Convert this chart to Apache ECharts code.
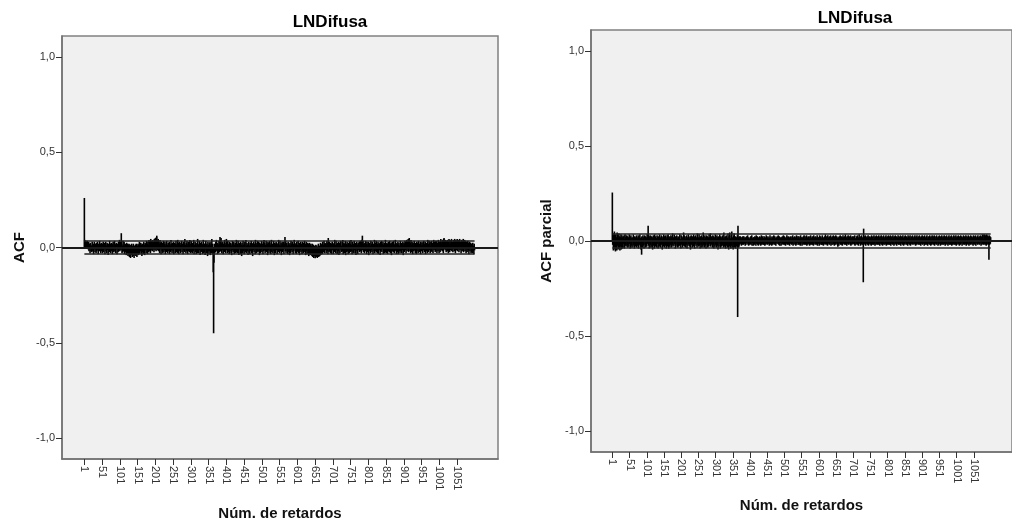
<!DOCTYPE html>
<html>
<head>
<meta charset="utf-8">
<script src="https://cdn.jsdelivr.net/npm/echarts@6/dist/echarts.min.js"></script>
<style>
html,body{margin:0;padding:0;background:#fff;}
#chart{width:1012px;height:526px;}
</style>
</head>
<body>
<div id="chart"></div>
<script>
const chartTitle = 'LNDifusa';
const xAxisName = 'Núm. de retardos';
const leftYName = 'ACF';
const rightYName = 'ACF parcial';
const lagTicks = [1,51,101,151,201,251,301,351,401,451,501,551,601,651,701,751,801,851,901,951,1001,1051];
const yTicks = [-1,-0.5,0,0.5,1];
const acfLimit = 0.034;
const pacfLimit = 0.037;

// ACF values, lags 1..1100 (10 per row)
const acfValues = [
.26,.04,.035,.03,.035,.025,.03,.02,.035,.01,
.025,-.01,.03,-.02,.02,.01,-.03,.025,.015,-.02,
.01,-.025,.03,.005,-.02,.02,-.035,.015,.03,-.01,
-.025,.02,.01,-.03,.025,-.02,.015,.03,-.015,-.035,
.02,.01,-.02,.035,-.01,.02,-.03,.015,.025,-.02,
.01,-.03,.02,.03,-.025,.015,-.01,.025,-.035,.02,
.03,-.02,.01,-.03,.025,.02,-.015,-.04,.02,.01,
-.025,.035,-.01,.02,-.03,.015,.025,-.02,.01,-.035,
.02,.03,-.015,-.025,.01,.035,-.02,.015,-.03,.02,
.025,-.01,-.035,.02,.01,-.025,.03,-.02,.015,.04,
-.02,.025,.03,-.015,.075,.02,-.03,.01,-.025,.035,
.015,-.02,.03,-.035,.01,.02,-.025,.015,-.04,.025,
.01,-.03,.02,-.045,.015,-.035,.02,-.05,.01,-.03,
-.055,.015,-.04,.02,-.035,-.05,.01,-.045,.02,-.03,
-.055,.01,-.04,-.025,.015,-.045,.02,-.035,-.05,.01,
-.03,.02,-.04,.015,-.025,.03,-.035,.01,-.02,.025,
-.03,.015,-.045,.02,-.025,.01,-.035,.03,-.02,.015,
-.04,.025,-.015,.02,-.03,.035,-.01,.02,-.035,.03,
.015,-.025,.04,-.02,.03,.01,-.03,.045,-.015,.02,
.035,-.02,.025,.04,-.01,.03,-.025,.045,.02,-.015,
.05,.03,-.02,.055,.062,.04,-.015,.035,.045,-.02,
.03,.02,-.03,.04,-.01,.025,-.035,.03,.015,-.02,
.025,-.03,.01,.035,-.025,.02,-.015,.03,-.035,.01,
.02,-.025,.035,-.01,.015,-.03,.025,.01,-.02,.03,
-.035,.02,.01,-.025,.04,-.015,.02,-.03,.025,.015,
-.02,.03,-.035,.015,.025,-.01,-.03,.02,.035,-.025,
.01,.02,-.03,.04,-.015,.025,-.035,.01,.03,-.02,
.015,-.03,.025,-.01,.035,-.025,.02,.01,-.035,.03,
-.015,.02,-.025,.045,-.01,.015,-.03,.025,-.02,.035,
.01,-.035,.02,.03,-.02,.015,-.025,.04,-.01,-.03,
.02,.035,-.025,.01,-.03,.025,.015,-.02,.04,-.035,
.015,-.01,.03,-.025,.02,-.035,.01,.025,-.03,.045,
-.02,.015,-.03,.02,.035,-.015,-.04,.025,.01,-.025,
.03,-.02,.015,-.035,.02,.04,-.03,.01,-.025,.02,
-.04,.025,.035,-.015,-.03,.02,.01,-.045,.03,-.02,
.015,-.035,.025,-.02,.03,-.04,.01,.02,-.03,.045,
-.025,.02,-.035,-.13,-.45,-.08,.02,-.03,.015,-.025,
.03,-.02,.04,-.015,.025,-.035,.02,.01,-.03,.035,
.015,-.025,.055,.035,-.02,.05,.02,-.03,.025,-.015,
.03,-.035,.02,.01,-.025,.04,-.02,.015,-.03,.025,
.045,-.015,.02,-.03,.035,-.025,.01,.02,-.035,.03,
-.02,.015,.025,-.03,.01,-.04,.02,.035,-.015,-.025,
.02,.03,-.035,.015,-.02,.025,-.03,.01,.04,-.025,
.01,-.03,.02,.035,-.015,-.04,.025,-.01,.02,-.035,
.03,-.02,.015,-.045,.025,.01,-.03,.035,-.02,.015,
-.035,.02,.03,-.015,-.025,.04,-.03,.01,.025,-.02,
.015,-.04,.02,.03,-.025,.01,-.035,.025,.015,-.02,
.035,-.03,.01,.02,-.045,.025,-.015,.03,-.025,.01,
.02,-.035,.04,-.01,.015,-.03,.025,-.02,.035,-.025,
.01,.03,-.02,-.04,.025,.015,-.03,.02,-.015,.035,
-.025,.02,.01,-.035,.03,-.02,.04,-.015,.025,-.03,
.015,-.02,.035,-.025,.01,.02,-.04,.03,-.015,.025,
-.03,.01,.035,-.02,.015,-.035,.025,.04,-.025,.01,
.02,-.03,.015,.035,-.02,-.04,.025,.01,-.03,.02,
.03,-.015,.025,-.035,.01,.02,-.025,.04,-.02,.015,
-.03,.035,.01,-.02,.025,-.04,.015,.03,-.025,.02,
-.015,.03,-.035,.02,.01,.055,-.02,.035,-.03,.015,
.025,-.02,.01,-.035,.03,.02,-.025,.015,-.04,.025,
.01,-.03,.035,-.015,.02,-.025,.03,.01,-.035,.02,
-.02,.04,-.01,.025,-.03,.015,.02,-.035,.03,-.025,
.015,-.02,.035,-.03,.01,.025,-.04,.02,-.015,.03,
-.025,.01,.02,-.035,.03,-.02,.015,-.03,.025,-.01,
.035,-.025,.02,-.04,.01,.03,-.02,-.035,.015,.025,
-.03,.02,-.045,.01,.025,-.035,.015,-.04,.02,-.03,
.01,-.045,.02,-.05,-.03,.015,-.055,-.035,.01,-.045,
-.057,-.03,.015,-.05,-.04,.01,-.055,-.025,-.045,.02,
-.05,-.035,.01,-.045,-.02,.025,-.04,.015,-.03,.02,
-.035,.03,-.02,.015,-.025,.035,-.03,.02,.025,-.015,
.02,-.03,.01,.035,-.02,.025,-.035,.05,.015,-.025,
.03,-.02,.015,-.03,.025,.01,-.035,.02,.03,-.015,
.025,-.035,.02,.01,-.025,.04,-.02,.015,-.03,.035,
-.015,.02,-.035,.025,.01,-.02,.03,-.04,.015,.025,
-.03,.02,.035,-.015,.01,-.025,.03,-.02,.04,-.035,
.015,.025,-.03,.02,-.015,.035,-.04,.01,.02,-.025,
.03,-.02,.015,-.035,.025,.01,-.03,.035,-.015,.02,
-.025,.04,-.02,.015,-.035,.03,.01,-.025,.02,-.03,
.035,-.015,.02,-.03,.025,-.04,.01,.03,-.02,.015,
-.035,.025,.02,-.015,.03,-.025,.01,.035,-.02,.025,
-.03,.04,.02,.062,-.015,.035,-.025,.02,.01,-.03,
.025,-.02,.035,-.015,.02,-.035,.03,.01,-.025,.02,
.03,-.04,.015,.025,-.02,.01,-.03,.035,-.015,.02,
-.025,.03,.01,-.035,.02,.015,-.02,.04,-.03,.025,
.01,-.02,.035,-.025,.015,-.03,.02,.03,-.035,.01,
.025,-.015,.02,-.04,.03,-.02,.015,.035,-.025,-.01,
.02,.03,-.035,.015,-.02,.025,-.03,.01,.04,-.025,
.015,-.03,.025,.02,-.035,.01,.03,-.02,.015,-.025,
.035,-.015,-.03,.02,.025,-.04,.01,.03,-.02,.015,
-.025,.035,.02,-.03,.015,-.02,.04,-.015,.025,-.035,
.01,.02,-.025,.03,-.035,.015,.025,-.02,.01,-.03,
.035,-.02,.015,.025,-.03,.02,-.015,.03,-.04,.01,
.025,-.025,.02,.035,-.015,.03,-.03,.01,.04,-.02,
.015,.03,.045,-.025,.02,.05,.035,-.02,.025,-.03,
.04,.015,-.025,.03,.02,-.035,.025,.01,-.02,.035,
-.015,.02,-.03,.025,.01,-.035,.03,-.02,.015,.025,
-.03,.035,.01,-.025,.02,-.015,.03,-.035,.025,.01,
-.02,.03,.015,-.03,.025,-.015,.035,.02,-.025,.01,
.03,-.035,.02,.025,-.02,.015,-.03,.04,.01,-.025,
.02,.035,-.015,.025,-.03,.01,.03,-.02,.035,-.025,
.015,.025,-.03,.02,.04,-.015,.01,.03,-.025,.035,
-.02,.02,.035,-.03,.015,.025,-.02,.04,.01,-.03,
.03,.02,-.025,.035,.045,-.015,.02,.03,-.02,.04,
.025,-.03,.045,.05,.02,.035,-.015,.04,.03,-.025,
.035,.015,-.02,.04,.025,-.03,.03,.045,.01,-.025,
.04,.02,-.015,.035,.045,-.02,.03,.01,-.025,.04,
.015,.035,-.02,.045,.025,-.03,.04,.02,-.015,.035,
.045,-.02,.03,.04,.015,-.025,.035,.045,-.015,.03,
.02,-.03,.04,.025,-.02,.035,.015,.045,-.025,.03,
.01,.04,-.02,.025,.035,-.03,.015,.03,-.025,.02,
.035,-.015,.025,-.035,.02,.03,-.02,.01,.025,-.03,
.02,-.025,.015,-.03,.025,-.02,.01,-.035,.02,-.015
];

// Partial ACF values, lags 1..1100 (10 per row)
const pacfValues = [
.255,-.02,.04,-.05,.03,-.045,.05,-.03,.02,-.055,
.035,-.04,.02,-.05,.045,-.025,.03,-.045,.015,.04,
-.035,.025,-.05,.02,-.03,.035,-.045,.015,.03,-.04,
.02,-.035,.025,-.015,.03,-.04,.01,.035,-.025,.02,
-.03,.015,.03,-.02,.025,-.035,.01,.02,-.03,.035,
-.015,.025,-.04,.02,.03,-.025,.015,-.035,.02,.01,
-.03,.035,-.02,.015,-.04,.025,.01,-.03,.02,-.015,
.03,-.035,.02,-.025,.015,.03,-.04,.01,.025,-.02,
.035,-.03,.015,-.045,.02,-.072,.025,-.035,.01,.03,
-.025,.02,-.04,.015,.03,-.02,.025,-.035,.01,.02,
-.03,.035,-.015,.02,.08,-.025,.03,-.04,.015,.025,
-.02,.03,-.035,.01,.025,-.03,.02,-.045,.015,.03,
-.025,.02,-.04,.035,.01,-.03,.025,-.02,.015,-.035,
.03,-.015,.02,-.04,.025,.01,-.03,.035,-.025,.02,
-.035,.015,.03,-.02,.025,-.045,.01,.02,-.03,.035,
-.02,.025,-.035,.015,.03,-.025,.02,-.04,.01,.03,
-.03,.02,.035,-.015,-.04,.025,.01,-.03,.02,-.02,
.03,-.035,.015,.025,-.02,.04,-.03,.01,.02,-.025,
.035,-.015,.02,-.04,.025,-.03,.01,.03,-.02,.015,
-.035,.025,.02,-.03,.015,-.025,.035,-.02,.01,-.04,
.03,-.02,.025,.015,-.035,.02,-.025,.045,-.015,.03,
-.03,.02,.01,-.035,.025,-.02,.03,-.04,.015,.02,
-.025,.035,-.015,.02,-.03,.01,.025,-.045,.02,.03,
-.02,.015,-.035,.025,.01,-.03,.035,-.02,.02,-.04,
.025,-.015,.03,-.025,.01,.02,-.035,.04,-.02,.015,
-.03,.02,.035,-.025,.015,-.04,.025,.01,-.02,.03,
-.035,.015,.02,-.03,.045,-.02,.025,-.035,.01,.03,
-.025,.02,-.04,.015,.03,-.02,.025,-.035,.01,.02,
-.03,.035,-.015,.02,-.025,.04,-.03,.01,.025,-.02,
.015,-.035,.03,-.02,.025,-.04,.015,.02,-.03,.035,
-.02,.025,-.035,.01,.03,-.025,.02,-.045,.015,.025,
-.03,.02,.035,-.015,-.04,.025,.01,-.03,.02,-.025,
.03,-.02,.015,-.035,.045,-.015,-.03,.02,.025,-.04,
.01,.03,-.025,.02,-.035,.015,.04,-.02,-.045,.025,
-.03,.045,-.02,.015,-.04,.03,-.025,.05,-.035,.01,
.02,-.045,.03,-.02,.04,-.035,.015,.025,-.04,.02,
-.03,.02,-.025,.03,-.40,.08,-.035,.02,-.03,.025,
-.02,.015,.025,-.015,.02,-.025,.01,.02,-.02,.025,
.015,-.02,.025,.01,-.015,.02,-.025,.015,.02,-.01,
.025,-.02,.01,.03,-.015,.02,-.025,.015,.01,-.02,
.02,-.015,.025,-.02,.01,.03,-.025,.015,-.01,.02,
-.025,.02,.015,-.02,.025,-.01,.02,-.025,.03,-.015,
.01,.025,-.02,.015,-.025,.02,.01,-.015,.025,-.02,
.02,-.025,.015,.03,-.02,.01,-.015,.025,-.02,.015,
-.02,.025,.01,-.025,.02,.015,-.02,.03,-.015,.02,
.015,-.02,.025,-.015,.01,.02,-.025,.015,.03,-.02,
-.015,.02,.01,-.025,.025,-.02,.015,.02,-.015,.03,
-.02,.01,.025,-.02,.015,-.025,.02,.01,-.015,.025,
.02,-.015,.03,-.02,.01,.025,-.025,.015,-.01,.02,
-.025,.015,.02,-.02,.025,-.015,.01,.03,-.02,.015,
.025,-.02,.015,-.025,.02,.01,-.015,.03,-.02,.02,
-.015,.025,-.02,.01,.02,-.025,.015,.025,-.015,.02,
.01,-.02,.025,-.015,.03,-.025,.02,.01,-.02,.015,
.025,-.015,.02,-.025,.01,.03,-.02,.015,-.01,.025,
-.02,.015,.025,-.02,.01,.02,-.025,.03,-.015,.02,
.015,-.025,.02,.01,-.02,.025,-.015,.03,-.02,.01,
.025,-.02,.015,-.015,.03,-.025,.02,.01,-.02,.025,
-.015,.02,.01,-.025,.025,-.02,.03,-.015,.015,-.02,
.02,.025,-.02,.015,-.025,.03,-.015,.02,.01,-.02,
.025,-.015,.02,-.02,.015,.03,-.025,.01,.02,-.015,
.02,-.025,.03,-.015,.01,.025,-.02,.015,-.02,.02,
.03,-.02,.015,-.025,.02,.01,-.015,.025,-.02,.035,
-.015,.02,.025,-.02,.01,-.025,.03,-.015,.02,.015,
-.02,.025,-.015,.02,.03,-.025,.01,.02,-.02,.025,
.015,-.02,.03,-.015,.02,-.025,.025,.01,-.02,.03,
-.015,.02,.025,-.02,.015,-.03,.02,.01,-.025,.025,
.02,-.015,.03,-.02,.01,.025,-.02,.015,-.025,.02,
.03,-.015,.02,.01,-.02,.025,-.015,.035,-.02,.015,
.02,-.025,.025,.01,-.015,.03,-.02,.02,-.015,.025,
.015,-.02,.03,-.025,.02,.01,-.02,.025,-.015,.02,
.025,-.015,.02,-.02,.03,-.025,.015,.01,-.02,.025,
-.015,.02,.03,-.02,.015,-.025,.02,.035,-.015,.01,
.02,-.025,.025,-.015,.03,-.02,.015,.02,-.02,-.217,
.065,-.02,.025,-.015,.02,.03,-.025,.01,.02,-.015,
.025,-.02,.015,.03,-.025,.02,.01,-.015,.025,-.02,
.02,.015,-.025,.03,-.015,.02,-.02,.025,.01,-.02,
.03,-.015,.02,-.025,.025,.01,-.02,.03,-.015,.02,
-.02,.025,.015,-.02,.03,-.015,.02,-.025,.025,.01,
-.015,.03,-.02,.02,.015,-.025,.025,-.015,.03,-.02,
.02,.01,-.02,.025,-.015,.03,-.025,.02,.015,-.02,
.025,-.015,.03,-.02,.01,.025,-.02,.015,.03,-.025,
.02,-.015,.025,.01,-.02,.03,-.015,.02,-.025,.025,
.015,-.02,.03,-.015,.02,.025,-.025,.01,.02,-.015,
.03,-.02,.015,.025,-.02,.02,-.015,.03,-.025,.01,
.025,-.015,.02,-.02,.03,.015,-.025,.02,-.015,.025,
-.02,.03,.01,-.015,.025,-.02,.02,.015,-.025,.03,
-.015,.02,.025,-.02,.015,.03,-.025,.01,.02,-.015,
.025,-.02,.03,-.015,.02,.01,-.02,.025,-.015,.03,
.02,-.025,.015,.025,-.02,.03,-.015,.02,.01,-.02,
.025,-.015,.03,-.02,.015,.02,-.025,.025,-.015,.02,
.03,-.02,.01,.025,-.015,.02,-.025,.03,.015,-.02,
.02,-.015,.025,-.02,.03,.01,-.025,.02,-.015,.025,
.015,-.02,.03,-.015,.02,-.025,.025,.01,-.02,.03,
-.015,.02,.025,-.02,.015,.03,-.025,.02,-.015,.01,
.025,-.02,.03,-.015,.02,.015,-.025,.025,-.02,.02,
.03,-.015,.02,-.025,.025,.01,-.02,.03,-.015,.02,
-.02,.025,.015,-.02,.03,-.015,.02,-.025,.025,.01,
-.015,.03,-.02,.02,.015,-.025,.025,-.015,.03,-.02,
.02,.01,-.02,.025,-.015,.03,-.025,.02,.015,-.02,
.025,-.015,.03,-.02,.01,.025,-.02,.015,.03,-.025,
.02,-.015,.025,.01,-.02,.03,-.015,.02,-.025,.025,
.015,-.02,.03,-.015,.02,.025,-.025,.01,.02,-.015,
.03,-.02,.015,.025,-.02,.02,-.015,.03,-.025,.01,
.025,-.015,.02,-.02,.03,.015,-.025,.02,-.015,.025,
-.02,.03,.01,-.015,.025,-.02,.02,.015,-.025,.03,
-.015,.02,.025,-.02,.015,.03,-.025,.01,.02,-.015,
.025,-.02,.03,-.015,.02,.01,-.02,.025,-.015,.03,
.02,-.025,.015,.025,-.02,.035,-.015,.03,.01,-.02,
.035,-.015,.03,-.02,.025,.03,-.025,.035,-.015,.02,
.03,-.02,.025,-.015,-.098,.03,-.02,.025,-.015,.02
];

const FONT = '"Liberation Sans", Arial, Helvetica, sans-serif';
const lagData = vals => vals.map((v, i) => [i + 1, v]);

function makeAxes(gridIndex, xMin, xMax, yName, yNameGap, xNameGap) {
  return {
    x: {
      type: 'value', gridIndex: gridIndex, min: xMin, max: xMax,
      axisLine: {show: true, onZero: false, lineStyle: {color: '#707070', width: 1.5}},
      axisTick: {show: true, customValues: lagTicks, length: 6, lineStyle: {color: '#333', width: 1}},
      axisLabel: {customValues: lagTicks, rotate: -90, fontSize: 11, color: '#333', fontFamily: FONT, margin: 7,
        formatter: v => String(v)},
      splitLine: {show: false},
      name: xAxisName, nameLocation: 'middle', nameGap: xNameGap,
      nameTextStyle: {fontFamily: FONT, fontWeight: 'bold', fontSize: 15, color: '#111'}
    },
    y: {
      type: 'value', gridIndex: gridIndex, min: -1.11, max: 1.11,
      axisLine: {show: true, onZero: false, lineStyle: {color: '#707070', width: 1.5}},
      axisTick: {show: true, customValues: yTicks, length: 6, lineStyle: {color: '#333', width: 1}},
      axisLabel: {customValues: yTicks, fontSize: 11, color: '#333', fontFamily: FONT, margin: 7,
        formatter: v => v.toFixed(1).replace('.', ',')},
      splitLine: {show: false},
      name: yName, nameLocation: 'middle', nameGap: yNameGap, nameRotate: 90,
      nameTextStyle: {fontFamily: FONT, fontWeight: 'bold', fontSize: 15, color: '#111'}
    }
  };
}

const a0 = makeAxes(0, -62, 1166, leftYName, 35, 47);
const a1 = makeAxes(1, -61, 1162, rightYName, 37, 46);

function seriesFor(idx, vals, limit) {
  const n = vals.length;
  return [
    {
      type: 'bar', xAxisIndex: idx, yAxisIndex: idx, data: lagData(vals),
      barWidth: 1.6, itemStyle: {color: '#000'}, silent: true,
      markLine: {silent: true, symbol: ['none', 'none'], label: {show: false},
        lineStyle: {color: '#1a1a1a', width: 1.8, type: 'solid'}, data: [{yAxis: 0}]}
    },
    {
      type: 'line', xAxisIndex: idx, yAxisIndex: idx, data: [[1, limit], [n, limit]],
      symbol: 'none', lineStyle: {color: '#222', width: 1.5}, silent: true
    },
    {
      type: 'line', xAxisIndex: idx, yAxisIndex: idx, data: [[1, -limit], [n, -limit]],
      symbol: 'none', lineStyle: {color: '#222', width: 1.5}, silent: true
    }
  ];
}

const chart = echarts.init(document.getElementById('chart'), null, {renderer: 'canvas'});
chart.setOption({
  animation: false,
  backgroundColor: '#fff',
  grid: [
    {left: 62, top: 36, width: 436, height: 429, show: true, backgroundColor: '#f0f0f0', borderColor: '#808080', borderWidth: 1.5},
    {left: 591, top: 30, width: 431, height: 422, show: true, backgroundColor: '#f0f0f0', borderColor: '#808080', borderWidth: 1.5}
  ],
  xAxis: [a0.x, a1.x],
  yAxis: [a0.y, a1.y],
  graphic: [
    {type: 'text', x: 330, y: 22, style: {text: chartTitle, fontFamily: FONT, fontWeight: 'bold', fontSize: 17, fill: '#000', align: 'center', verticalAlign: 'middle'}},
    {type: 'text', x: 855, y: 18, style: {text: chartTitle, fontFamily: FONT, fontWeight: 'bold', fontSize: 17, fill: '#000', align: 'center', verticalAlign: 'middle'}}
  ],
  series: [].concat(seriesFor(0, acfValues, acfLimit), seriesFor(1, pacfValues, pacfLimit))
});
</script>
</body>
</html>
